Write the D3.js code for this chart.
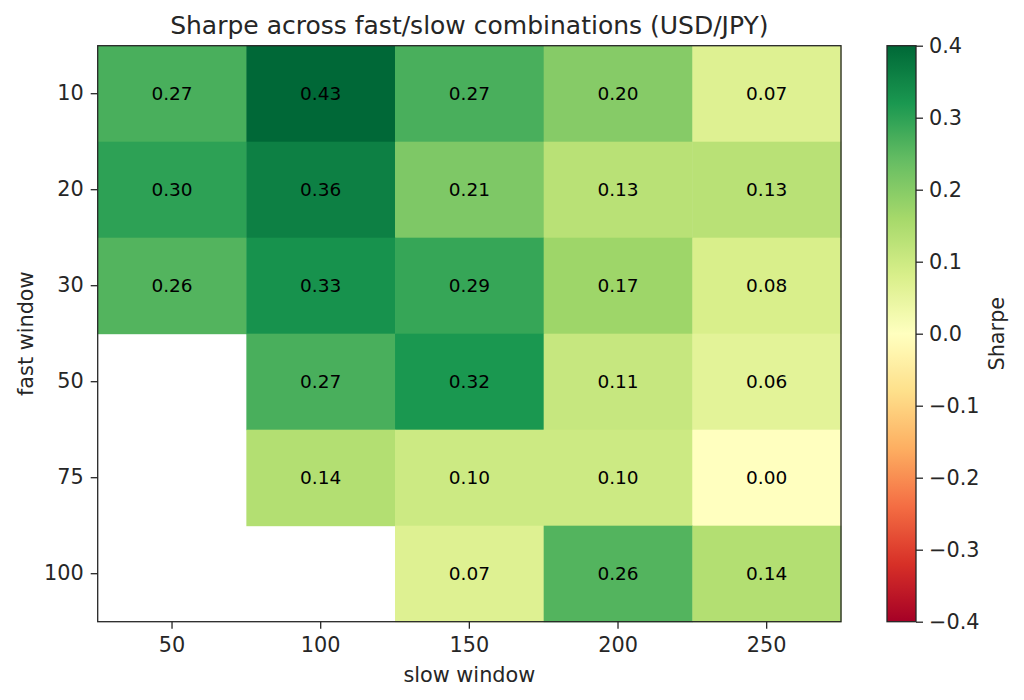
<!DOCTYPE html>
<html><head><meta charset="utf-8">
<script src="https://cdn.jsdelivr.net/npm/d3@7/dist/d3.min.js"></script>
<style>body{margin:0;background:#fff}svg{display:block}text{font-family:"DejaVu Sans",sans-serif}</style>
</head><body><svg id="c" width="1024" height="700"></svg>
<script>
const slowWindows = [50, 100, 150, 200, 250];
const fastWindows = [10, 20, 30, 50, 75, 100];
const sharpe = [
  [0.27, 0.43, 0.27, 0.20, 0.07],
  [0.30, 0.36, 0.21, 0.13, 0.13],
  [0.26, 0.33, 0.29, 0.17, 0.08],
  [null, 0.27, 0.32, 0.11, 0.06],
  [null, 0.14, 0.10, 0.10, 0.00],
  [null, null, 0.07, 0.26, 0.14]
];
const cbTicks = [0.4, 0.3, 0.2, 0.1, 0.0, -0.1, -0.2, -0.3, -0.4];
const rdylgn = ["#a50026","#d73027","#f46d43","#fdae61","#fee08b","#ffffbf","#d9ef8b","#a6d96a","#66bd63","#1a9850","#006837"];

const svg = d3.select("#c");
const L = 97.7, R = 841, T = 45.7, B = 621.7;
const x = d3.scaleBand().domain(slowWindows).range([L, R]);
const y = d3.scaleBand().domain(fastWindows).range([T, B]);
const vmin = -0.4, vmax = 0.4;
const color = d3.scaleLinear()
  .domain(d3.range(11).map(i => vmin + i * (vmax - vmin) / 10))
  .range(rdylgn).interpolate(d3.interpolateRgb).clamp(true);

const cells = [];
fastWindows.forEach((f, i) => slowWindows.forEach((s, j) => {
  if (sharpe[i][j] !== null) cells.push({f, s, v: sharpe[i][j]});
}));
svg.append("g").selectAll("rect").data(cells).join("rect")
  .attr("x", d => x(d.s)).attr("y", d => y(d.f))
  .attr("width", x.bandwidth() + 0.5).attr("height", y.bandwidth() + 0.5)
  .attr("fill", d => color(d.v));
svg.append("g").selectAll("text").data(cells).join("text")
  .attr("x", d => x(d.s) + x.bandwidth() / 2).attr("y", d => y(d.f) + y.bandwidth() / 2)
  .attr("text-anchor", "middle").attr("dominant-baseline", "central")
  .attr("font-size", 18.5).attr("fill", "#000")
  .text(d => d.v.toFixed(2));

svg.append("rect").attr("x", L).attr("y", T).attr("width", R - L).attr("height", B - T)
  .attr("fill", "none").attr("stroke", "#262626").attr("stroke-width", 1.3);

const fs = 20.8;
const xa = svg.append("g").attr("transform", `translate(0,${B})`)
  .call(d3.axisBottom(x).tickSize(7).tickPadding(9));
const ya = svg.append("g").attr("transform", `translate(${L},0)`)
  .call(d3.axisLeft(y).tickSize(7).tickPadding(7));
[xa, ya].forEach(a => {
  a.select(".domain").remove();
  a.selectAll("line").attr("stroke", "#262626").attr("stroke-width", 1.3);
  a.selectAll("text").attr("font-size", fs).attr("fill", "#262626").style("font-family", "DejaVu Sans");
});

svg.append("text").attr("x", (L + R) / 2).attr("y", 33.5).attr("text-anchor", "middle")
  .attr("font-size", 25).attr("fill", "#262626").text("Sharpe across fast/slow combinations (USD/JPY)");
svg.append("text").attr("x", (L + R) / 2).attr("y", 682).attr("text-anchor", "middle")
  .attr("font-size", fs).attr("fill", "#262626").text("slow window");
svg.append("text").attr("transform", `translate(33,${(T + B) / 2}) rotate(-90)`).attr("text-anchor", "middle")
  .attr("font-size", fs).attr("fill", "#262626").text("fast window");

// colorbar
const cL = 887, cR = 916;
const cy = d3.scaleLinear().domain([vmin, vmax]).range([B, T]);
const defs = svg.append("defs");
const grad = defs.append("linearGradient").attr("id", "g").attr("x1", 0).attr("x2", 0).attr("y1", 1).attr("y2", 0);
d3.range(0, 1.0001, 0.02).forEach(t => grad.append("stop").attr("offset", t).attr("stop-color", color(vmin + t * (vmax - vmin))));
svg.append("rect").attr("x", cL).attr("y", T).attr("width", cR - cL).attr("height", B - T)
  .attr("fill", "url(#g)").attr("stroke", "#262626").attr("stroke-width", 1.3);
const ca = svg.append("g").attr("transform", `translate(${cR},0)`)
  .call(d3.axisRight(cy).tickValues(cbTicks).tickSize(7).tickPadding(6).tickFormat(d => d3.format(".1f")(d).replace("-", "\u2212")));
ca.select(".domain").remove();
ca.selectAll("line").attr("stroke", "#262626").attr("stroke-width", 1.3);
ca.selectAll("text").attr("font-size", fs).attr("fill", "#262626").style("font-family", "DejaVu Sans");
svg.append("text").attr("transform", `translate(1004,${(T + B) / 2}) rotate(-90)`).attr("text-anchor", "middle")
  .attr("font-size", fs).attr("fill", "#262626").text("Sharpe");
</script></body></html>
